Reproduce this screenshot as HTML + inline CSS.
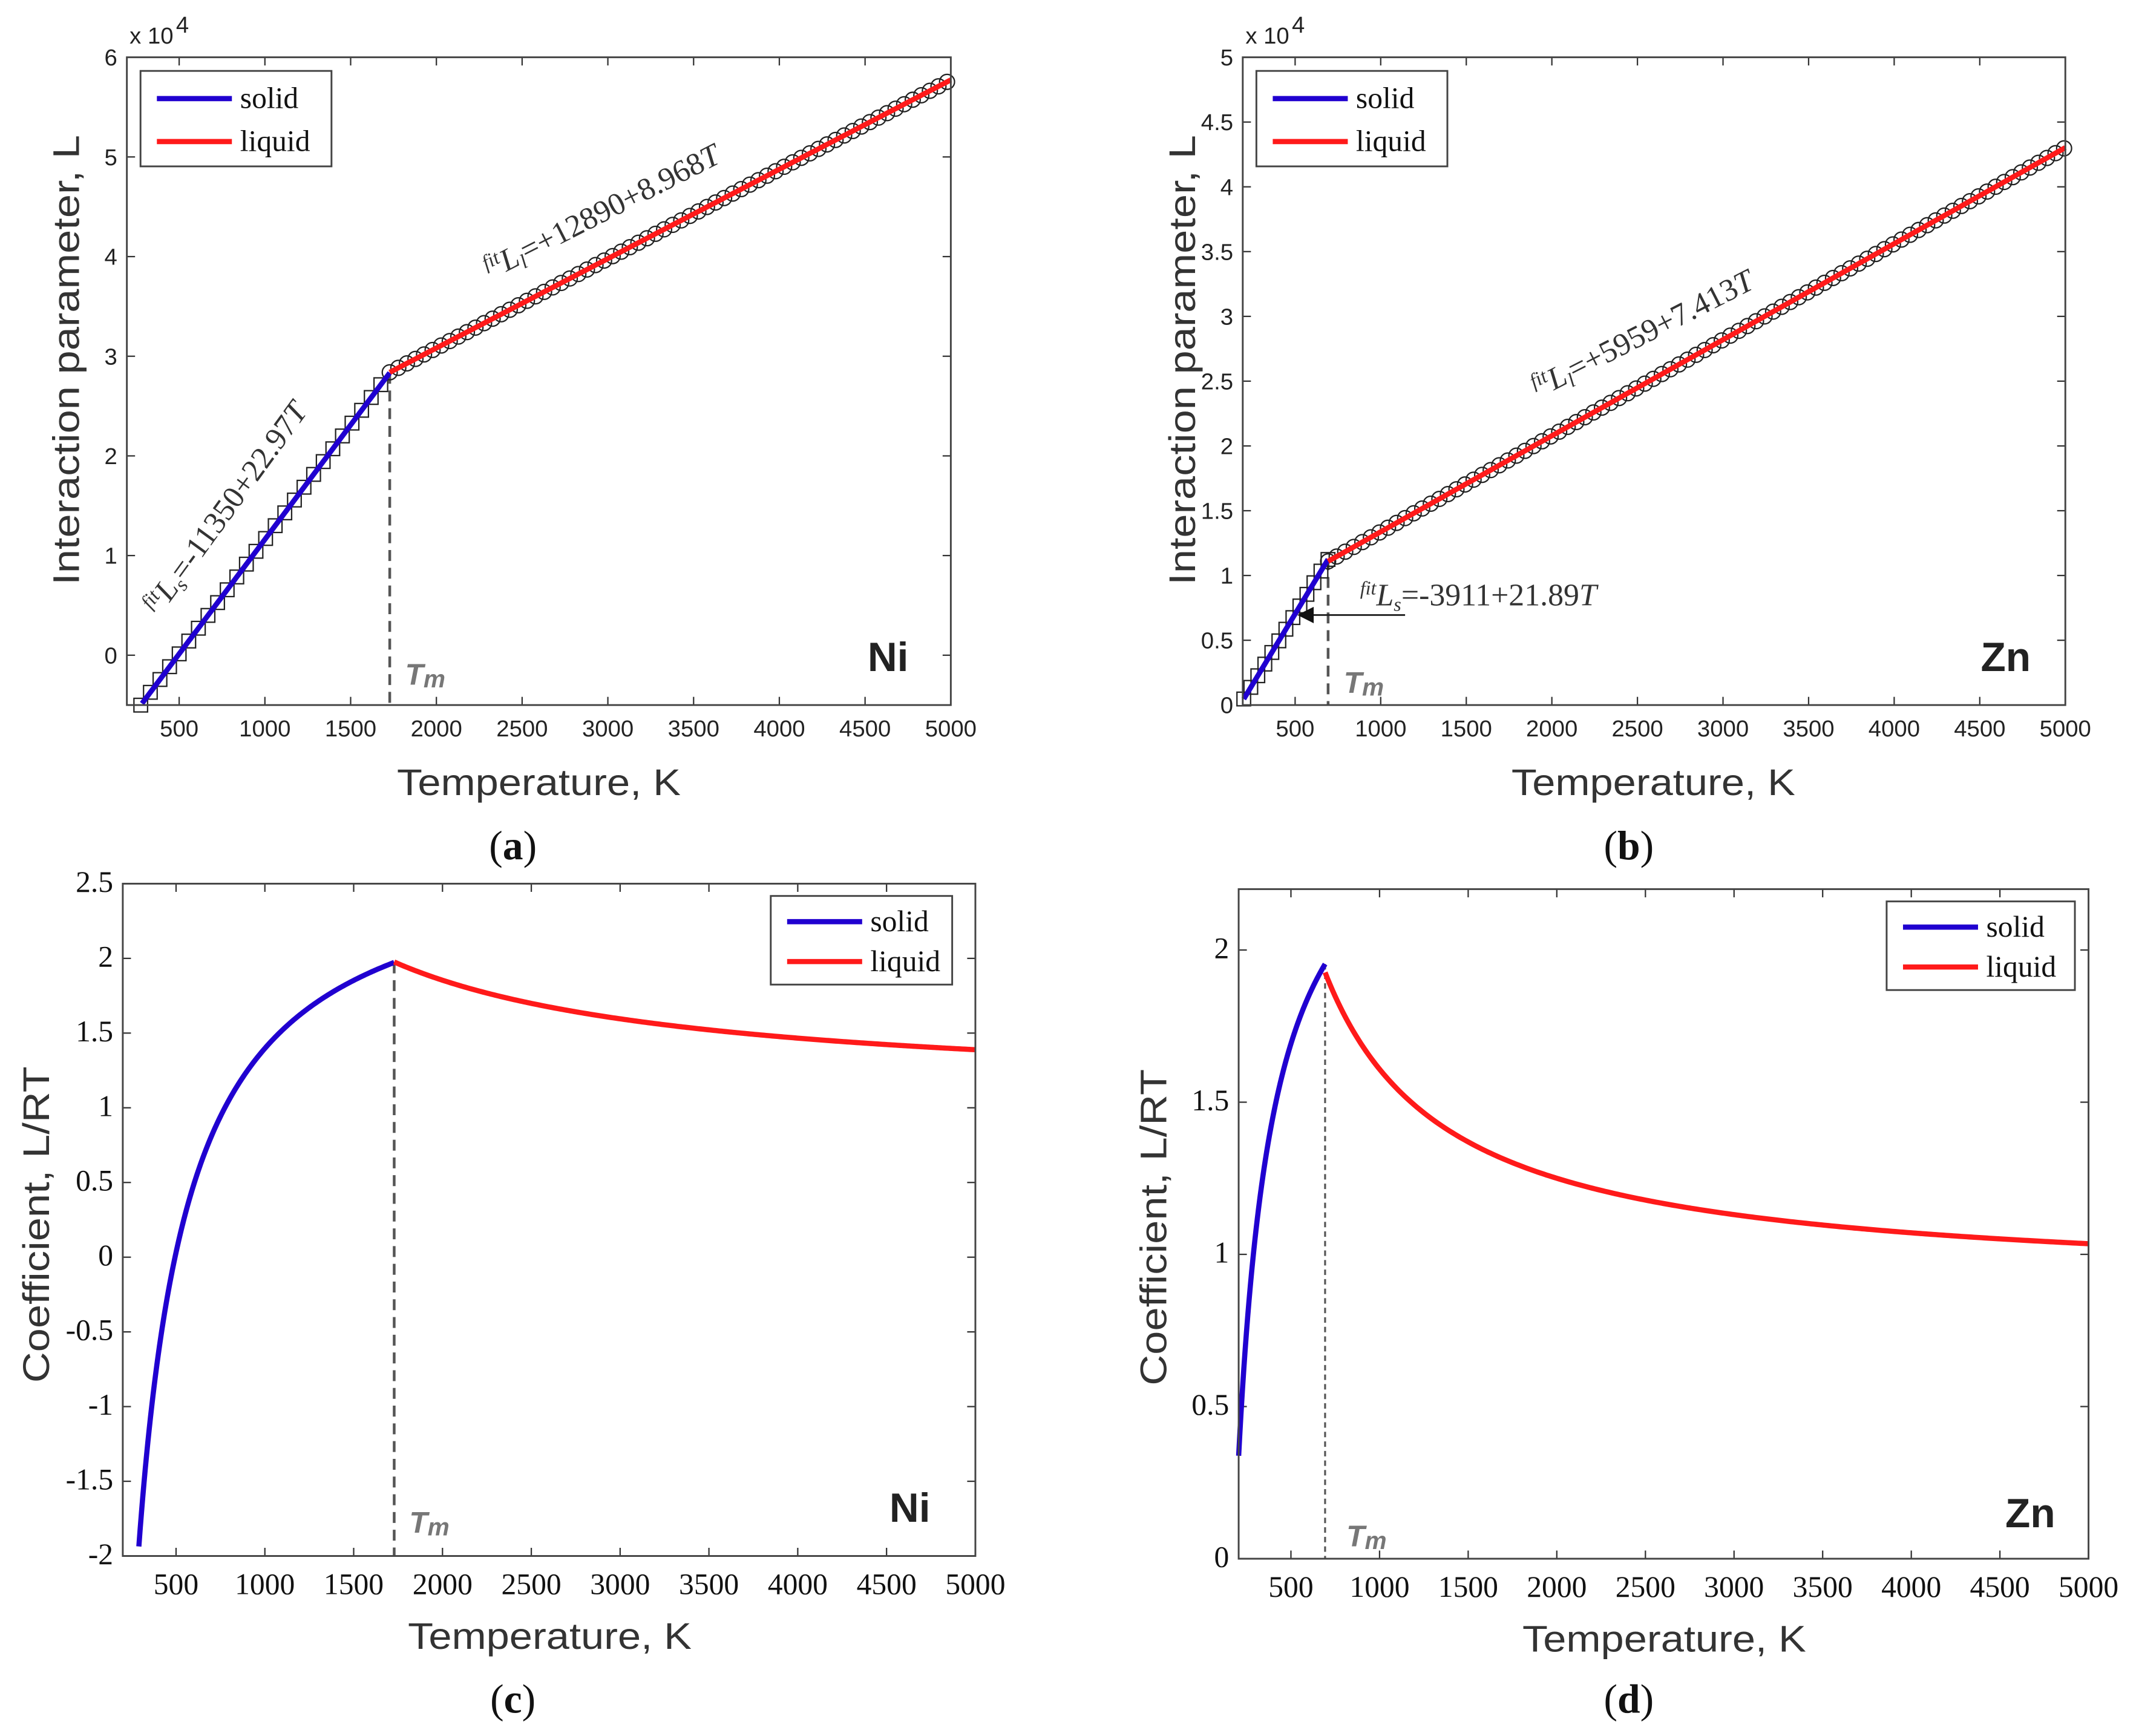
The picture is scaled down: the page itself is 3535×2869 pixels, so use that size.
<!DOCTYPE html>
<html><head><meta charset="utf-8"><style>
html,body{margin:0;padding:0;background:#fff}
svg{display:block}
.tk{font-family:"Liberation Sans",sans-serif;font-size:17px;fill:#222}
.tks{font-family:"Liberation Serif",serif;font-size:22px;fill:#111}
.al{font-family:"Liberation Sans",sans-serif;font-size:27px;fill:#333}
.lg{font-family:"Liberation Serif",serif;font-size:22px;fill:#111}
.cap{font-family:"Liberation Serif",serif;font-size:30px;fill:#111}
.el{font-family:"Liberation Sans",sans-serif;font-size:30px;font-weight:bold;fill:#222}
.tm{font-family:"Liberation Sans",sans-serif;font-size:22px;font-weight:bold;font-style:italic;fill:#777}
.eq{font-family:"Liberation Serif",serif;font-size:23px;font-style:italic;fill:#333}
</style></head><body>
<svg id="fig" width="3535" height="2869" viewBox="0 0 1568 1273" preserveAspectRatio="none" xmlns="http://www.w3.org/2000/svg"></svg>
<script>
const elements = ["Ni", "Zn"];
const meltingT = [1728, 692.7];
const solidA = [-11350, -3911];
const solidB = [22.97, 21.89];
const liquidA = [12890, 5959];
const liquidB = [8.968, 7.413];
const solidStartT = [276, 200];
const tMax = 5000;
const R = 8.314;
const xTicks = [500,1000,1500,2000,2500,3000,3500,4000,4500,5000];
const yTicksA = [0,1,2,3,4,5,6];
const yTicksB = [0,0.5,1,1.5,2,2.5,3,3.5,4,4.5,5];
const yTicksC = [-2,-1.5,-1,-0.5,0,0.5,1,1.5,2,2.5];
const yTicksD = [0,0.5,1,1.5,2];

const NS="http://www.w3.org/2000/svg";
const svg=document.getElementById('fig');
function mk(tag,attrs,parent,text){const e=document.createElementNS(NS,tag);for(const k in attrs)e.setAttribute(k,attrs[k]);if(text!==undefined)e.textContent=text;(parent||svg).appendChild(e);return e;}

const panels=[
 {id:'a',el:0,type:'L',box:[93,697,42,517],xr:[195,5000],yr:[-5000,60000],yt:yTicksA,scale:1e4,tickCls:'tk',ylabel:'Interaction parameter, L',ylx:48,ylc:264,yll:330,xlab:[395,583],cap:[376,630],leg:[103,52,140,70],elxy:[636,492],tmxy:[297,502]},
 {id:'b',el:1,type:'L',box:[911,1514,42,517],xr:[194,5000],yr:[0,50000],yt:yTicksB,scale:1e4,tickCls:'tk',ylabel:'Interaction parameter, L',ylx:866,ylc:264,yll:330,xlab:[1212,583],cap:[1194,630],leg:[921,52,140,70],elxy:[1452,492],tmxy:[985,508]},
 {id:'c',el:0,type:'C',box:[90,715,648,1141],xr:[200,5000],yr:[-2,2.5],yt:yTicksC,scale:1,tickCls:'tks',ylabel:'Coefficient, L/RT',ylx:26,ylc:898,yll:232,xlab:[403,1209],cap:[376,1256],leg:[565,657,133,65],elxy:[652,1116],tmxy:[300,1124]},
 {id:'d',el:1,type:'C',box:[908,1531,652,1143],xr:[205,5000],yr:[0,2.2],yt:yTicksD,scale:1,tickCls:'tks',ylabel:'Coefficient, L/RT',ylx:845,ylc:900,yll:232,xlab:[1220,1211],cap:[1194,1256],leg:[1383,661,138,65],elxy:[1470,1120],tmxy:[987,1134]}
];

panels.forEach(p=>{
 const g=mk('g',{});
 
 
 const [x0,x1,y0,y1]=p.box;
 const sx=v=>x0+(v-p.xr[0])/(p.xr[1]-p.xr[0])*(x1-x0);
 const sy=v=>y1-(v-p.yr[0])/(p.yr[1]-p.yr[0])*(y1-y0);
 const e=p.el, Tm=meltingT[e];
 const Ls=T=>solidA[e]+solidB[e]*T, Ll=T=>liquidA[e]+liquidB[e]*T;
 const fS=p.type==='L'?Ls:(T=>Ls(T)/(R*T));
 const fL=p.type==='L'?Ll:(T=>Ll(T)/(R*T));
 xTicks.forEach(t=>{const x=sx(t);
  mk('line',{x1:x,x2:x,y1:y1,y2:y1-6,stroke:'#333','stroke-width':1},g);
  mk('line',{x1:x,x2:x,y1:y0,y2:y0+6,stroke:'#333','stroke-width':1},g);
  const tl=mk('text',{x:x,y:y1+(p.type==='L'?23:28),'text-anchor':'middle',class:p.tickCls},g,String(t));
  
  
 });
 p.yt.forEach(t=>{const y=sy(t*p.scale);
  mk('line',{x1:x0,x2:x0+6,y1:y,y2:y,stroke:'#333','stroke-width':1},g);
  mk('line',{x1:x1,x2:x1-6,y1:y,y2:y,stroke:'#333','stroke-width':1},g);
  const tl=mk('text',{x:x0-7,y:y+6,'text-anchor':'end',class:p.tickCls},g,String(t));
  
  
 });
 if(p.type==='L'){
  const ex=mk('text',{x:x0+2,y:y0-10,class:'tk','font-size':15},g,'x 10');
  
  
  mk('text',{x:x0+36,y:y0-18,class:'tk','font-size':11},g,'4');
 }
 const tmTop=p.type==='L'?sy(Ls(Tm)):sy(fS(Tm));
 const tml=mk('line',{x1:sx(Tm),x2:sx(Tm),y1:tmTop,y2:y1,stroke:'#555','stroke-width':p.id==='d'?1.4:2,'stroke-dasharray':p.id==='d'?'4,3':'8,5'},g);
 
 
 if(p.type==='L'){
  const step=e===0?56:41;
  for(let T=solidStartT[e];T<=Tm;T+=step){
   const m=mk('rect',{x:sx(T)-5,y:sy(Ls(T))-5,width:10,height:10,fill:'none',stroke:'#222','stroke-width':1},g);
   
   
  }
  for(let T=Tm;T<=tMax+1;T+=50){
   const m=mk('circle',{cx:sx(T),cy:sy(Ll(T)),r:5.5,fill:'none',stroke:'#222','stroke-width':1},g);
   
   
  }
 }
 const t0=p.type==='L'?solidStartT[e]:Math.max(p.xr[0],solidStartT[e]);
 let d='';for(let i=0;i<=200;i++){const T=t0+(Tm-t0)*i/200;let v=fS(T);if(v<p.yr[0])continue;d+=(d?'L':'M')+sx(T).toFixed(2)+','+sy(v).toFixed(2);}
 const sp=mk('path',{d:d,fill:'none',stroke:'#2000d0','stroke-width':3.8},g);
 
 
 d='';for(let i=0;i<=300;i++){const T=Tm+(tMax-Tm)*i/300;d+=(i?'L':'M')+sx(T).toFixed(2)+','+sy(fL(T)).toFixed(2);}
 const lp=mk('path',{d:d,fill:'none',stroke:'#ff1a1a','stroke-width':3.8},g);
 
 
 const fr=mk('rect',{x:x0,y:y0,width:x1-x0,height:y1-y0,fill:'none',stroke:'#444','stroke-width':1.3},g);
 
 
 const [lx,ly,lw,lh]=p.leg;
 const lgg=mk('g',{},g);
 
 
 mk('rect',{x:lx,y:ly,width:lw,height:lh,fill:'#fff',stroke:'#444','stroke-width':1.3},lgg);
 const r1=ly+lh*0.29, r2=ly+lh*0.74;
 mk('line',{x1:lx+12,x2:lx+67,y1:r1,y2:r1,stroke:'#2000d0','stroke-width':3.8},lgg);
 mk('line',{x1:lx+12,x2:lx+67,y1:r2,y2:r2,stroke:'#ff1a1a','stroke-width':3.8},lgg);
 const s1=mk('text',{x:lx+73,y:r1+7,class:'lg'},lgg,'solid');
 
 
 const s2=mk('text',{x:lx+73,y:r2+7,class:'lg'},lgg,'liquid');
 
 
 const el=mk('text',{x:p.elxy[0],y:p.elxy[1],class:'el'},g,elements[e]);
 
 
 const tm=mk('text',{x:p.tmxy[0],y:p.tmxy[1],class:'tm'},g,'T');
 
 
 mk('tspan',{'font-size':18,dy:2},tm,'m');
 const xl=mk('text',{x:p.xlab[0],y:p.xlab[1],'text-anchor':'middle',class:'al',textLength:208,lengthAdjust:'spacingAndGlyphs'},g,'Temperature, K');
 
 
 const yc=p.ylc;
 const yl=mk('text',{x:p.ylx,y:yc,'text-anchor':'middle',class:'al',textLength:p.yll,lengthAdjust:'spacingAndGlyphs',transform:`rotate(-90 ${p.ylx} ${yc})`,dy:10},g,p.ylabel);
 
 
 const cp=mk('text',{x:p.cap[0],y:p.cap[1],'text-anchor':'middle',class:'cap'},g,'(');
 
 
 mk('tspan',{'font-weight':'bold'},cp,p.id);
 mk('tspan',{},cp,')');
});

function eq(x,y,ang,sub,rest,name,fs){
 const t=mk('text',{x:x,y:y,class:'eq','font-size':fs,transform:`rotate(${ang} ${x} ${y})`});
 
 
 mk('tspan',{'font-size':fs*0.62,dy:-8},t,'fit');
 mk('tspan',{dy:8},t,'L');
 mk('tspan',{'font-size':fs*0.62,dy:4},t,sub);
 mk('tspan',{dy:-4,'font-style':'normal'},t,rest);
 mk('tspan',{},t,'T');
}
eq(117,452,-54,'s','=-11350+22.97','equation-solid-ni',24);
eq(360,205,-27,'l','=+12890+8.968','equation-liquid-ni',24);
eq(1128,292,-27,'l','=+5959+7.413','equation-liquid-zn',24);
eq(997,444,0,'s','=-3911+21.89','equation-solid-zn',23);
const ar=mk('line',{x1:1030,y1:451,x2:962,y2:451,stroke:'#222','stroke-width':1.3});


mk('polygon',{points:'951,451 963,445 963,457',fill:'#111'});
</script>
</body></html>
